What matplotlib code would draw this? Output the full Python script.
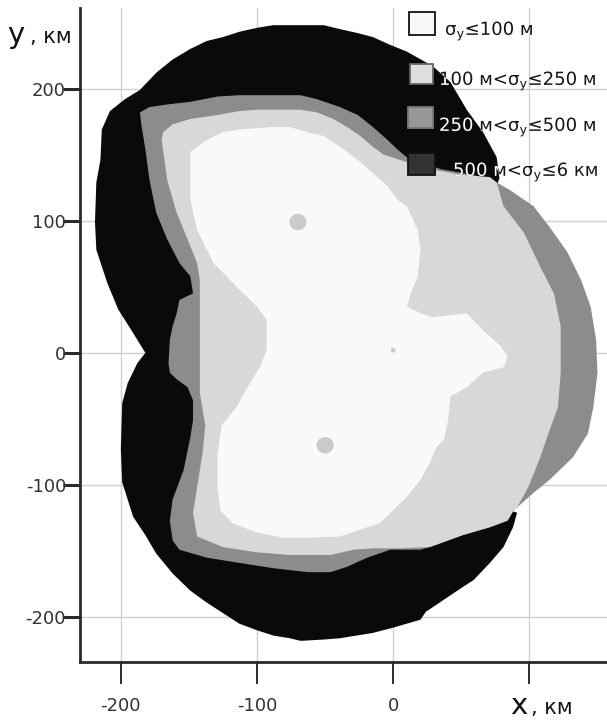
import matplotlib
matplotlib.use('Agg')
import matplotlib.pyplot as plt
from matplotlib.patches import Polygon, Rectangle, PathPatch, Ellipse
from matplotlib.textpath import TextPath
from matplotlib.font_manager import FontProperties
from matplotlib.transforms import Affine2D

plt.rcParams['mathtext.default'] = 'regular'
plt.rcParams['font.family'] = ['DejaVu Sans']

# ---------------- data (km) ----------------
# outer zone: 500 m < sigma_y <= 6 km
black_x = [-186, -174, -162, -149, -137, -125, -113, -100, -88, -76, -51, -39, -26, -15, -2, 10, 29, 42, 54, 66, 76, 78,
           70, 90, 90, 85,
           88, 91, 88, 81, 71, 59, 50, 24, 20, 0, -15, -39, -51, -68, -76, -88, -100, -113, -125, -137, -149, -162,
           -174, -182, -191, -199, -200, -199, -195, -188, -182, -191, -202, -210, -218, -219, -218, -215, -214,
           -208, -197]
black_y = [199, 212, 222, 230, 236, 239, 243, 246, 248, 248, 248, 245, 242, 239, 233, 228, 217, 205, 184, 167, 148, 132,
           110, 40, -60, -110,
           -120, -121, -132, -147, -159, -172, -178, -196, -202, -208, -212, -216, -217, -218, -216, -214, -210,
           -205, -197, -189, -180, -167, -152, -138, -124, -98, -73, -38, -23, -8, 0, 15, 33, 53, 78, 99, 129, 146,
           169, 183, 192]

# 250 m < sigma_y <= 500 m (outer boundary of the zone)
gray_x = [-186, -179, -166, -149, -129, -113, -88, -68, -56, -39, -26, -15, -4, 3, 10, 35, 57, 76, 86, 103, 115, 128,
          138, 145, 149, 150, 147, 143, 132, 115, 103, 91, 88, 84, 71, 51, 27, 20, -2, -19, -34, -46, -63, -88, -113,
          -137, -157, -162, -164, -162, -154, -149, -147, -147, -151, -159, -164, -165, -164, -162, -159, -157,
          -147, -149, -157, -166, -174, -179, -182, -185]
gray_y = [182, 186, 188, 190, 194, 195, 195, 195, 192, 186, 180, 171, 161, 154, 148, 139, 135, 129, 123, 111, 95, 76,
          55, 35, 10, -15, -41, -61, -79, -96, -106, -117, -120, -127, -132, -138, -147, -149, -149, -155, -162,
          -166, -166, -163, -159, -155, -149, -142, -127, -111, -89, -64, -51, -36, -26, -20, -15, -8, 10, 20, 30,
          40, 45, 58, 68, 86, 106, 131, 154, 173]

# 100 m < sigma_y <= 250 m (outer boundary of the zone)
lgray_x = [-170, -169, -162, -149, -129, -113, -100, -88, -68, -56, -44, -34, -24, -15, -7, 5, 27, 49, 71, 76, 81, 96,
           108, 118, 123, 123, 121, 115, 108, 99, 91, 88, 84, 71, 51, 27, 5, -4, -15, -29, -46, -76, -100, -125,
           -144, -147, -144, -140, -138, -140, -142, -142, -142, -144, -151, -159, -166]
lgray_y = [161, 167, 173, 177, 180, 183, 184, 184, 184, 182, 177, 171, 164, 156, 150, 146, 139, 135, 133, 129, 111,
           91, 65, 45, 20, -15, -41, -58, -79, -102, -117, -120, -127, -132, -138, -147, -148, -148, -148, -149,
           -153, -153, -151, -147, -139, -121, -102, -76, -55, -43, -30, 30, 55, 68, 86, 106, 131]

# sigma_y <= 100 m
white_x = [-149, -149, -137, -125, -113, -100, -88, -76, -63, -51, -39, -26, -15, -4, 3, 10, 18, 20, 18, 13, 10, 20,
           29, 54, 66, 79, 84, 81, 66, 54, 42, 40, 37, 32, 27, 20, 10, -2, -10, -19, -39, -63, -81, -100, -118,
           -127, -129, -129, -126, -115, -107, -98, -93, -93, -100, -113, -132, -144]
white_y = [116, 152, 161, 167, 169, 170, 171, 171, 167, 164, 156, 146, 136, 126, 116, 111, 93, 78, 58, 45, 35, 30,
           27, 30, 17, 5, -3, -11, -15, -26, -33, -53, -66, -71, -83, -96, -109, -121, -129, -132, -139, -140, -140,
           -136, -129, -119, -102, -76, -55, -41, -26, -11, 2, 25, 35, 48, 68, 93]

# stations (small spots of degraded accuracy)
spot_x = [-70, -50, 0]
spot_y = [99, -70, 2]
spot_d = [12.5, 12.5, 3.5]

x_ticks = [-200, -100, 0, 100]
x_tick_labels = ['-200', '-100', '0', '']
y_ticks = [-200, -100, 0, 100, 200]
y_tick_labels = ['-200', '-100', '0', '100', '200']

zone_labels = [r'$\sigma_y$≤100 м', r'100 м<$\sigma_y$≤250 м', r'250 м<$\sigma_y$≤500 м', r'500 м<$\sigma_y$≤6 км']
zone_colors = ['#f7f7f7', '#dedede', '#979797', '#333333']

# ---------------- figure ----------------
W, H, DPI = 607, 720, 100
fig = plt.figure(figsize=(W / DPI, H / DPI), dpi=DPI)
ax = fig.add_axes([80 / W, 58 / H, 527 / W, 654 / H])
ax.set_xlim(-230, 157)
ax.set_ylim(-234, 261)

ax.set_axisbelow(True)
ax.grid(True, color='#cfcfcf', lw=1.0)

black_patch = Polygon(list(zip(black_x, black_y)), closed=True, fc='#0a0a0a', ec='none', zorder=2)
ax.add_patch(black_patch)
ax.add_patch(Polygon(list(zip(gray_x, gray_y)), closed=True, fc='#8c8c8c', ec='none', zorder=3))
ax.add_patch(Polygon(list(zip(lgray_x, lgray_y)), closed=True, fc='#d8d8d8', ec='none', zorder=4))
ax.add_patch(Polygon(list(zip(white_x, white_y)), closed=True, fc='#f9f9f9', ec='none', zorder=5))
for sx, sy, sd in zip(spot_x, spot_y, spot_d):
    ax.add_patch(Ellipse((sx, sy), sd, sd, fc='#cacaca', ec='none', zorder=6))

for side in ['top', 'right']:
    ax.spines[side].set_visible(False)
for side in ['left', 'bottom']:
    ax.spines[side].set_linewidth(2.0)
    ax.spines[side].set_color('#2a2a2a')

ax.set_xticks(x_ticks)
ax.set_xticklabels(x_tick_labels)
ax.set_yticks(y_ticks)
ax.set_yticklabels(y_tick_labels)
ax.tick_params(axis='y', direction='out', length=12, width=2.2, pad=-2, labelsize=13,
               color='#2a2a2a', labelcolor='#333333')
ax.tick_params(axis='x', direction='out', length=16, width=1.4, pad=9, labelsize=13,
               color='#2a2a2a', labelcolor='#333333')

# axis titles
fig.text(7 / W, 1 - 43 / H, 'y', fontsize=21, va='baseline', ha='left', color='#111111')
fig.text(30 / W, 1 - 43 / H, ', км', fontsize=15, va='baseline', ha='left', color='#111111')
fig.text(510 / W, 1 - 714 / H, 'x', fontsize=21, va='baseline', ha='left', color='#111111')
fig.text(531 / W, 1 - 714 / H, ', км', fontsize=15, va='baseline', ha='left', color='#111111')

# legend (drawn in pixel positions)
fp = FontProperties(family='DejaVu Sans')
box_px = [(409, 12, 435, 35), (410, 64, 433, 84), (408, 107, 433, 128), (408, 153, 435, 175)]
box_ec = ['#111111', '#666666', '#777777', '#111111']
text_px = [(445, 35), (439, 85), (439, 131), (453, 176)]


def path_text(s, px, py, size, color, clip=None):
    tp = TextPath((0, 0), s, size=size, prop=fp)
    tr = Affine2D().scale(DPI / 72.0).translate(px, H - py)
    pp = PathPatch(tp, transform=tr, fc=color, ec='none', lw=0, zorder=10)
    fig.add_artist(pp)
    if clip is not None:
        pp.set_clip_path(clip)
    return pp


for (x0, y0, x1, y1), fc, ec, (tx, ty), lab in zip(box_px, zone_colors, box_ec, text_px, zone_labels):
    fig.add_artist(Rectangle((x0 / W, 1 - y1 / H), (x1 - x0) / W, (y1 - y0) / H,
                             transform=fig.transFigure, fc=fc, ec=ec, lw=1.3, zorder=9))
    path_text(lab, tx, ty, 13, '#151515')
    path_text(lab, tx, ty, 13, 'white', clip=black_patch)

fig.savefig('out.png', dpi=DPI)
